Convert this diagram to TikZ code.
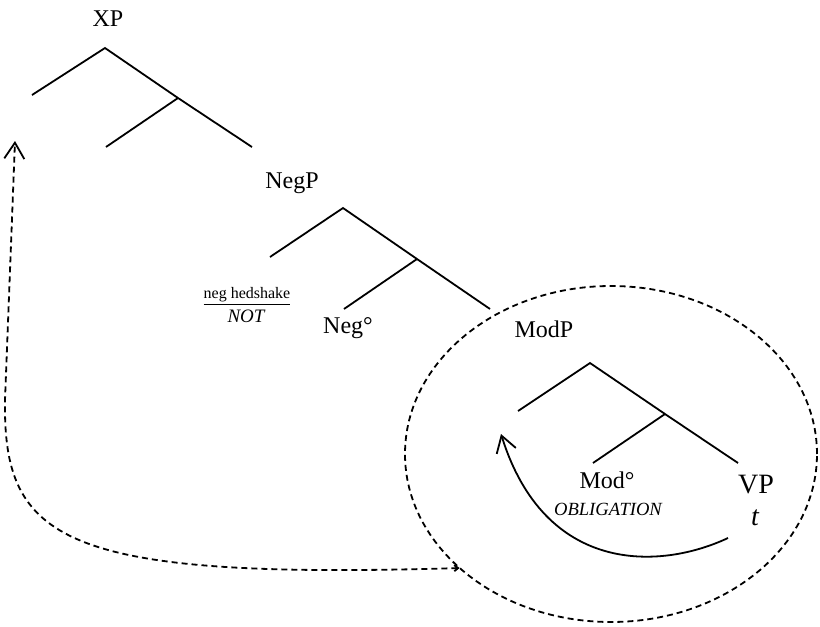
\documentclass[tikz,border=0pt]{standalone}
\usepackage{fontspec}
\setmainfont{Liberation Serif}
\usepackage{xcolor}
\usepackage{tikz}
\usetikzlibrary{arrows.meta}
\usetikzlibrary{shapes.geometric}

\begin{document}
\begin{tikzpicture}[x=0.5pt,y=-0.5pt,
  branch/.style={line width=0.9pt},
  cat/.style={anchor=base,inner sep=0pt,font=\fontsize{12}{14}\selectfont},
  gloss/.style={anchor=base,inner sep=0pt,font=\fontsize{9.3}{11}\selectfont\itshape},
  move/.style={line width=0.9pt,-{Straight Barb[length=8pt,width=10pt]}}]

\useasboundingbox (0,0) rectangle (820,627);

% Define the main coordinates
\coordinate (x0) at (105,48);
\coordinate (x1) at (32,95);
\coordinate (x2) at (178,98);
\coordinate (x3) at (106,147);
\coordinate (x4) at (252,147);

\coordinate (n0) at (343,208);
\coordinate (n1) at (270,257);
\coordinate (n2) at (417,259);
\coordinate (n3) at (344,309);
\coordinate (n4) at (490,309);

\coordinate (m0) at (590,363);
\coordinate (m1) at (518,411);
\coordinate (m2) at (665,414);
\coordinate (m3) at (593,463);
\coordinate (m4) at (738,463);

% Draw the labels
\node[cat] (xp) at (108,26) {XP};
\node[cat] (negp) at (292,188) {NegP};
\node[cat] (modp) at (544,337) {ModP};
\node[cat] (neg) at (348,333) {Neg°};
\node[cat] (mod) at (607,488) {Mod°};
\node[cat,font=\fontsize{14}{16}\selectfont] (vp) at (756,493) {VP};
\node[cat,font=\fontsize{14}{16}\selectfont\itshape] (trace) at (755,525) {t};
\node[gloss] (oblig) at (608,515) {OBLIGATION};
\node[anchor=base,inner sep=0pt,font=\fontsize{8}{10}\selectfont] (shake) at (247,298) {\underline{neg hedshake}};
\node[gloss,font=\fontsize{9.5}{11}\selectfont\itshape] (notgl) at (246,322) {NOT};

% Draw the tree
\draw[branch] (x1) -- (x0) -- (x2) -- (x4);
\draw[branch] (x2) -- (x3);
\draw[branch] (n1) -- (n0) -- (n2) -- (n4);
\draw[branch] (n2) -- (n3);
\draw[branch] (m1) -- (m0) -- (m2) -- (m4);
\draw[branch] (m2) -- (m3);

% Draw the moved constituent
\node[draw,dashed,ellipse,line width=0.9pt,inner sep=0pt,outer sep=0pt,
  minimum width=206pt,minimum height=168pt,dash pattern=on 3pt off 2pt] (domain) at (611,454) {};

% Draw the movements
\coordinate (landing) at (15,141);
\coordinate (tstart) at (728,538);
\coordinate (spec) at (501,434);
\draw[move,dash pattern=on 3pt off 2pt,{Straight Barb[length=2pt,width=3pt]}-{Straight Barb[length=8pt,width=10pt]}]
  (domain.217) .. controls (60,580) and (3,540) .. (5,400) -- (landing);
\draw[move] (tstart) .. controls (660,570) and (545,575) .. (spec);

\end{tikzpicture}
\end{document}
